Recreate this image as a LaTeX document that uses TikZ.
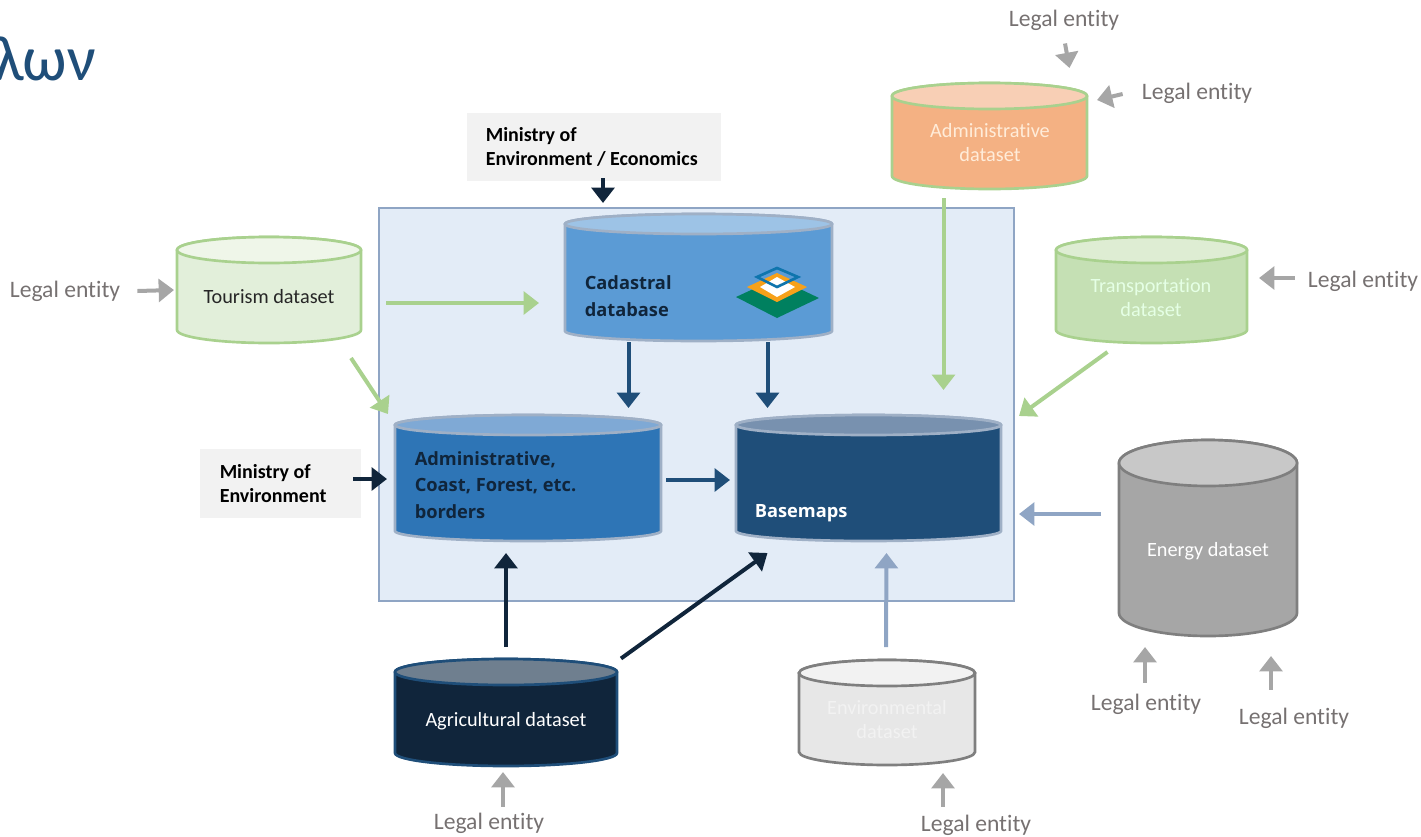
\documentclass[tikz,border=0pt]{standalone}
\usepackage{fontspec}
\setmainfont{Carlito}[Ligatures=NoCommon]
\newfontfamily\labelfont{Open Sans}
\usetikzlibrary{arrows.meta}
\usetikzlibrary{calc}
\definecolor{titleblue}{HTML}{1F4E79}
\definecolor{legalgrey}{HTML}{767171}
\definecolor{arrowgrey}{HTML}{A6A6A6}
\definecolor{arrowgreen}{HTML}{A9D18E}
\definecolor{arrowsteel}{HTML}{8FA5C4}
\definecolor{arrownavy}{HTML}{10253B}
\definecolor{panelblue}{HTML}{E3ECF7}
\definecolor{boxgrey}{HTML}{F2F2F2}
\definecolor{dbline}{HTML}{9FB0C6}
\definecolor{darkline}{HTML}{7F7F7F}
\definecolor{tourismbody}{HTML}{E2EFDA}
\definecolor{tourismend}{HTML}{EFF6E9}
\definecolor{cadastralbody}{HTML}{5B9BD5}
\definecolor{cadastralend}{HTML}{9DC3E6}
\definecolor{bordersbody}{HTML}{2E75B6}
\definecolor{bordersend}{HTML}{7FA9D5}
\definecolor{basemapsend}{HTML}{7891AF}
\definecolor{adminbody}{HTML}{F4B183}
\definecolor{adminend}{HTML}{F8CFB5}
\definecolor{transportbody}{HTML}{C5E0B4}
\definecolor{transportend}{HTML}{DEEDD3}
\definecolor{energybody}{HTML}{A6A6A6}
\definecolor{energyend}{HTML}{C8C8C8}
\definecolor{agriend}{HTML}{6F7F8F}
\definecolor{environbody}{HTML}{E7E7E7}
\definecolor{layergreen}{HTML}{00805F}
\definecolor{layerorange}{HTML}{F7A11A}
\definecolor{layerblue}{HTML}{0F75AD}
\tikzset{
  legal/.style={text=legalgrey,font=\fontsize{17.7}{22}\selectfont,inner sep=0pt},
  dstext/.style={font=\fontsize{15.2}{18}\selectfont,align=center,inner sep=0pt},
  dbtext/.style={font=\labelfont\bfseries\fontsize{13.7}{20}\selectfont,align=left,anchor=west,inner sep=0pt},
  ministry/.style={fill=boxgrey,inner sep=0pt,outer sep=0pt},
  ministrytext/.style={font=\bfseries\fontsize{15}{18}\selectfont,align=left,anchor=west,inner sep=0pt},
  block/.style={line width=3pt,-{Triangle[length=11.5pt,width=17pt]}},
  dbnode/.style={inner sep=0pt,outer sep=0pt},
}
% name, centre, half width, half height, end radius, body, end, line
\newcommand{\dbcyl}[8]{%
  \node (#1) [dbnode,minimum width=1.5pt*#3,minimum height=1.5pt*#4] at #2 {};
  \draw [line width=2pt,draw=#8,fill=#6] ($(#1.west)+(0,-#4+#5)$) -- ($(#1.west)+(0,#4-#5)$)
    arc [start angle=180,end angle=0,x radius=#3,y radius=#5]
    -- ($(#1.east)+(0,-#4+#5)$)
    arc [start angle=0,end angle=-180,x radius=#3,y radius=#5] -- cycle;
  \draw [line width=2pt,draw=#8,fill=#7] ($(#1.north)+(0,#5)$) ellipse [x radius=#3,y radius=#5];
}
\begin{document}
\begin{tikzpicture}[x=0.75pt,y=0.75pt,yscale=-1,xscale=1]
\path [use as bounding box,clip] (0,0) rectangle (1421,836);

% Panel
\node (panel) [draw=arrowsteel,fill=panelblue,line width=1.9pt,inner sep=0pt,outer sep=0pt,minimum width=476pt,minimum height=295pt] at (696.5,404.5) {};

% Ministry boxes
\node (envecon) [ministry,minimum width=190.5pt,minimum height=51pt] at (594,147) {};
\node (environment) [ministry,minimum width=120.75pt,minimum height=51.75pt] at (280.5,483.5) {};
\node (envecontext) [ministrytext] at (485.5,147) {Ministry of\\Environment / Economics};
\node (environmenttext) [ministrytext] at (219.5,484) {Ministry of\\Environment};

% Cylinders
\dbcyl{tourism}{(269,290)}{92}{53}{13}{tourismbody}{tourismend}{arrowgreen}
\dbcyl{cadastral}{(698.5,277.5)}{133.5}{63.5}{10}{cadastralbody}{cadastralend}{dbline}
\dbcyl{borders}{(528,478)}{133}{63}{10}{bordersbody}{bordersend}{dbline}
\dbcyl{basemaps}{(868.5,478)}{132.5}{63}{10}{titleblue}{basemapsend}{dbline}
\dbcyl{admin}{(989.5,136)}{97.5}{53}{13}{adminbody}{adminend}{arrowgreen}
\dbcyl{transport}{(1151.5,290)}{95.5}{53}{13}{transportbody}{transportend}{arrowgreen}
\dbcyl{energy}{(1208,538)}{89}{98}{23}{energybody}{energyend}{darkline}
\dbcyl{agri}{(506,712.5)}{111}{53.5}{13}{arrownavy}{agriend}{titleblue}
\dbcyl{environ}{(887,712.5)}{88}{52.5}{13}{environbody}{boxgrey}{darkline}

% Layers icon
\fill [layergreen] (736,297) -- (777,278) -- (819,298) -- (777,318) -- cycle;
\fill [layerorange] (747,287) -- (777,273) -- (807,287) -- (777,302) -- cycle;
\fill [white] (760,287) -- (777,277) -- (795,287) -- (777,297) -- cycle;
\draw [layerblue,line width=2pt] (757,277) -- (777,268) -- (798,277) -- (777,287) -- cycle;

% Title
\node (title) [anchor=base east,text=titleblue,font=\fontsize{48}{58}\selectfont,inner sep=0pt] at (96,80) {λων};

% Text in the cylinders
\node (tourismtext) [dstext,text=black!85] at (269,297) {Tourism dataset};
\node (admintext) [dstext,text=orange!15!white] at (990,143) {Administrative\\dataset};
\node (transporttext) [dstext,text=green!10!white] at (1151,298) {Transportation\\dataset};
\node (energytext) [dstext,text=white] at (1208,551) {Energy dataset};
\node (agritext) [dstext,text=white] at (506,721) {Agricultural dataset};
\node (environtext) [dstext,text=boxgrey] at (887,720) {Environmental\\dataset};
\node (cadastraltext) [dbtext,text=arrownavy] at (584.5,296) {Cadastral\\database};
\node (borderstext) [dbtext,text=arrownavy] at (414.5,485) {Administrative,\\Coast, Forest, etc.\\borders};
\node (basemapstext) [dbtext,text=white] at (754.5,513) {Basemaps};

% Legal entity labels
\node (legaltop) [legal] at (1064,20) {Legal entity};
\node (legalside) [legal] at (1197,93) {Legal entity};
\node (legaltourism) [legal] at (65,291) {Legal entity};
\node (legaltransport) [legal] at (1363,281) {Legal entity};
\node (legalagri) [legal] at (489,823) {Legal entity};
\node (legalenviron) [legal] at (976,825) {Legal entity};
\node (legalenergya) [legal] at (1146,704) {Legal entity};
\node (legalenergyb) [legal] at (1294,718) {Legal entity};

% Grey arrows
\draw [block,arrowgrey] ($(legaltop.south)+(1,13)$) -- ($(admin.north)+(80,-15)$);
\draw [block,arrowgrey] ($(legalside.west)+(-19,1)$) -- ($(admin.east)+(10,-36)$);
\draw [block,arrowgrey] ($(legaltourism.east)+(17,0)$) -- ($(tourism.west)+(-3,0)$);
\draw [block,arrowgrey] ($(legaltransport.west)+(-13,-3)$) -- ($(transport.east)+(12,-12)$);
\draw [block,arrowgrey] ($(legalagri.north)+(14,-6)$) -- ($(agri.south)+(-3,6)$);
\draw [block,arrowgrey] ($(legalenviron.north)+(-33,-8)$) -- ($(environ.south)+(56,8)$);
\draw [block,arrowgrey] ($(legalenergya.north)+(-1,-11)$) -- ($(energy.south)+(-63,11)$);
\draw [block,arrowgrey] ($(legalenergyb.north)+(-23,-18)$) -- ($(energy.south)+(63,20)$);

% Ministry arrows
\draw [block,arrownavy] ($(envecon.south)+(9,-3)$) -- ($(cadastral.north)+(-95.5,-11)$);
\draw [block,arrownavy] ($(environment.east)+(-8,-4.5)$) -- ($(borders.west)+(-8,1)$);

% Green arrows
\draw [block,arrowgreen] ($(tourism.east)+(25,13)$) -- ($(cadastral.west)+(-26,25.5)$);
\draw [block,arrowgreen] ($(tourism.south)+(82,15)$) -- ($(borders.north)+(-140,-1)$);
\draw [block,arrowgreen] ($(admin.south)+(-46,9)$) -- ($(basemaps.north)+(75,-25)$);
\draw [block,arrowgreen] ($(transport.south)+(-44,9)$) -- ($(basemaps.east)+(18,-62)$);

% Dark blue arrows
\draw [block,titleblue] ($(cadastral.south)+(-70,1)$) -- ($(borders.north)+(100.5,-7)$);
\draw [block,titleblue] ($(cadastral.south)+(69,1)$) -- ($(basemaps.north)+(-101,-7)$);
\draw [block,titleblue] ($(borders.east)+(5,2)$) -- ($(basemaps.west)+(-6,2)$);

% Navy arrows
\draw [block,arrownavy] ($(agri.north)+(0,-12)$) -- ($(borders.south)+(-22,12)$);
\draw [block,arrownavy] ($(agri.east)+(4,-54)$) -- ($(basemaps.south)+(-101,12)$);

% Steel arrows
\draw [block,arrowsteel] ($(environ.north)+(-1,-13)$) -- ($(basemaps.south)+(18,12)$);
\draw [block,arrowsteel] ($(energy.west)+(-18,-24)$) -- ($(basemaps.east)+(18,36)$);
\end{tikzpicture}
\end{document}
